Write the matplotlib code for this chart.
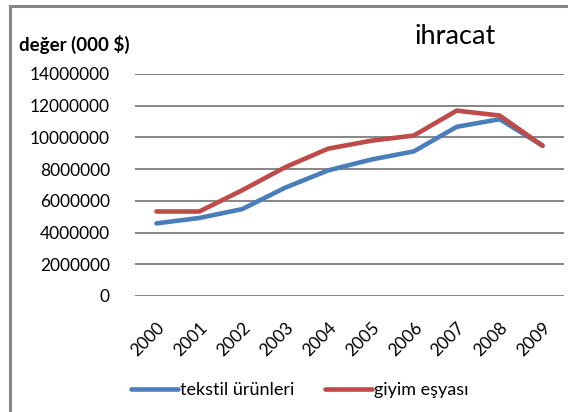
import matplotlib.pyplot as plt
from matplotlib.lines import Line2D

plt.rcParams['font.family'] = ['Lato', 'DejaVu Sans']

yillar = ["2000", "2001", "2002", "2003", "2004", "2005", "2006", "2007", "2008", "2009"]
tekstil = [4580000, 4920000, 5480000, 6830000, 7920000, 8600000, 9120000, 10670000, 11150000, 9480000]
giyim = [5330000, 5330000, 6670000, 8120000, 9290000, 9790000, 10120000, 11690000, 11380000, 9480000]
yticks = list(range(0, 14000001, 2000000))

fig = plt.figure(figsize=(5.68, 4.12), dpi=100)
ax = fig.add_axes([135 / 568, 116 / 412, 429 / 568, 222 / 412])

x = range(len(yillar))
ax.plot(x, tekstil, color="#4A7EBB", lw=3.3, label="tekstil ürünleri", solid_capstyle="round")
ax.plot(x, giyim, color="#BE4B48", lw=3.3, label="giyim eşyası", solid_capstyle="round")

ax.set_xlim(-0.5, len(yillar) - 0.5)
ax.set_ylim(0, 14000000)
ax.set_yticks(yticks)
ax.set_yticklabels([str(v) for v in yticks], fontsize=12.5)
ax.set_xticks(list(x))
ax.set_xticklabels(yillar, rotation=45, ha="right", va="top", rotation_mode="anchor", fontsize=12.5)
ax.tick_params(axis="both", length=0)
ax.tick_params(axis="x", pad=17)
ax.tick_params(axis="y", pad=18)
ax.grid(axis="y", color="#868686", lw=1.4)
ax.set_axisbelow(True)
for s in ax.spines.values():
    s.set_visible(False)

fig.text(19 / 568, 1 - 44 / 412, "değer (000 $)", fontsize=13.5, fontweight="bold", va="center")
fig.text(415 / 568, 1 - 36 / 412, "ihracat", fontsize=19.5, va="center")

fig.legend(loc="center", bbox_to_anchor=(300 / 568, 1 - 390 / 412), ncol=2, frameon=False,
           fontsize=13, handlelength=2.6, handletextpad=0.1, columnspacing=1.7)

# chart border (top and left edges visible)
fig.add_artist(Line2D([9.5 / 568, 1.0], [1 - 5.5 / 412, 1 - 5.5 / 412], transform=fig.transFigure,
                      color="#868686", lw=2.2))
fig.add_artist(Line2D([9.5 / 568, 9.5 / 568], [0.0, 1 - 5.5 / 412], transform=fig.transFigure,
                      color="#868686", lw=2.2))

fig.savefig("out.png", dpi=100)
